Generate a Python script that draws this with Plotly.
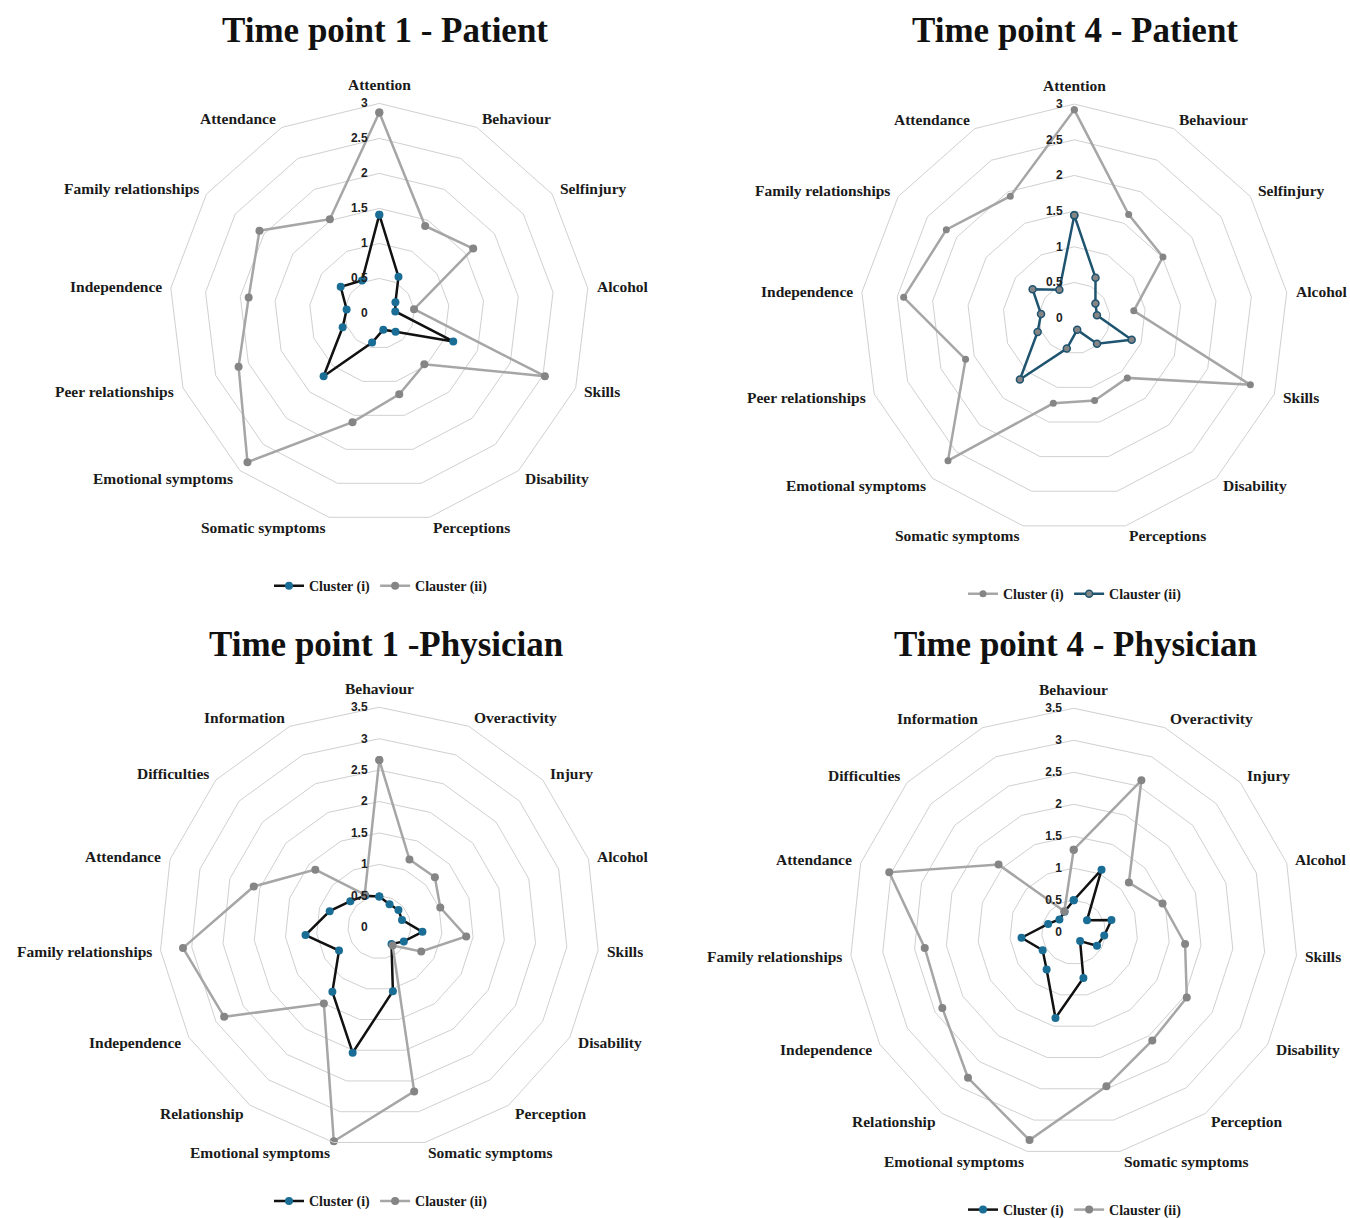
import math
import plotly.graph_objects as go

# ---------------- data ----------------
cats_patient = ["Attention", "Behaviour", "Selfinjury", "Alcohol", "Skills", "Disability",
                "Perceptions", "Somatic symptoms", "Emotional symptoms", "Peer relationships",
                "Independence", "Family relationships", "Attendance"]
cats_physician = ["Behaviour", "Overactivity", "Injury", "Alcohol", "Skills", "Disability",
                  "Perception", "Somatic symptoms", "Emotional symptoms", "Relationship",
                  "Independence", "Family relationships", "Attendance", "Difficulties", "Information"]

tp1_patient_c1 = [1.41, 0.59, 0.28, 0.23, 1.13, 0.35, 0.24, 0.43, 1.20, 0.56, 0.47, 0.67, 0.53]
tp1_patient_c2 = [2.87, 1.41, 1.63, 0.50, 2.53, 0.97, 1.19, 1.60, 2.84, 2.15, 1.88, 2.08, 1.52]

tp4_patient_c1 = [2.92, 1.64, 1.51, 0.84, 2.64, 1.12, 1.19, 1.23, 2.67, 1.63, 2.41, 2.18, 1.93]
tp4_patient_c2 = [1.44, 0.64, 0.36, 0.32, 0.86, 0.48, 0.17, 0.44, 1.15, 0.55, 0.47, 0.71, 0.45]

tp1_phys_c1 = [0.49, 0.40, 0.41, 0.38, 0.69, 0.45, 0.33, 1.04, 2.04, 1.27, 0.74, 1.18, 0.83, 0.62, 0.55]
tp1_phys_c2 = [2.66, 1.18, 1.19, 1.02, 1.39, 0.77, 0.36, 2.67, 3.48, 1.50, 2.85, 3.14, 2.10, 1.37, 0.57]

tp4_phys_c1 = [0.50, 1.07, 0.28, 0.62, 0.48, 0.42, 0.17, 0.73, 1.37, 0.72, 0.56, 0.82, 0.42, 0.30, 0.35]
tp4_phys_c2 = [1.29, 2.60, 1.16, 1.46, 1.75, 2.04, 2.09, 2.46, 3.32, 2.81, 2.37, 2.34, 3.03, 1.58, 0.36]

titles = ["Time point 1 - Patient", "Time point 4 - Patient",
          "Time point 1 -Physician", "Time point 4 - Physician"]
name_i = "Cluster (i)"
name_ii = "Clauster (ii)"
radial_max = [3, 3, 3.5, 3.5]

# ---------------- styling ----------------
W, H = 1350, 1226
KY = 0.994  # observed vertical compression of the rendered page
BLUE_M = "#1a6e96"
TEAL = "#1e5470"
BLACK = "#111111"
GRAY_L = "#a6a6a6"
GRAY_M = "#858585"
GRID = "#d0d0d0"
SERIF = "Liberation Serif"

# panel geometry in page pixels: center x, center y, outer radius
geo = [(379.3, 313.3, 210), (1074.3, 318, 214), (379.3, 927, 220), (1073.7, 932, 224)]
title_pos = [(385, 30), (1075, 30), (386, 644), (1075, 644)]
legend_pos = [(381, 586), (1075, 594), (381, 1201), (1075, 1210)]


def px_x(x):
    return x / W


def px_y(y):
    return 1 - (y / KY) / H


def closed(vals, cats):
    return list(vals) + [vals[0]], list(cats) + [cats[0]]


fig = go.Figure()

panels = [
    (cats_patient, tp1_patient_c1, tp1_patient_c2, "black"),
    (cats_patient, tp4_patient_c1, tp4_patient_c2, "teal"),
    (cats_physician, tp1_phys_c1, tp1_phys_c2, "black"),
    (cats_physician, tp4_phys_c1, tp4_phys_c2, "black"),
]

for i, (cats, c1, c2, style) in enumerate(panels):
    pid = "polar" if i == 0 else f"polar{i+1}"
    lid = "legend" if i == 0 else f"legend{i+1}"
    if style == "black":
        r, t = closed(c1, cats)
        fig.add_trace(go.Scatterpolar(
            r=r, theta=t, name=name_i, subplot=pid, legend=lid, mode="lines+markers",
            line=dict(color=BLACK, width=2.5),
            marker=dict(color=BLUE_M, size=8)))
        r, t = closed(c2, cats)
        fig.add_trace(go.Scatterpolar(
            r=r, theta=t, name=name_ii, subplot=pid, legend=lid, mode="lines+markers",
            line=dict(color=GRAY_L, width=2.5),
            marker=dict(color=GRAY_M, size=8)))
    else:
        r, t = closed(c1, cats)
        fig.add_trace(go.Scatterpolar(
            r=r, theta=t, name=name_i, subplot=pid, legend=lid, mode="lines+markers",
            line=dict(color=GRAY_L, width=2.5),
            marker=dict(color=GRAY_M, size=7)))
        r, t = closed(c2, cats)
        fig.add_trace(go.Scatterpolar(
            r=r, theta=t, name=name_ii, subplot=pid, legend=lid, mode="lines+markers",
            line=dict(color=TEAL, width=2.5),
            marker=dict(color=GRAY_M, size=7, line=dict(color=TEAL, width=1.5))))

layout = dict(width=W, height=H, margin=dict(l=0, r=0, t=0, b=0),
              paper_bgcolor="white", plot_bgcolor="white", showlegend=True)

annotations = []
panel_cats = [cats_patient, cats_patient, cats_physician, cats_physician]
for i in range(4):
    cx, cy, R = geo[i]
    pid = "polar" if i == 0 else f"polar{i+1}"
    layout[pid] = dict(
        domain=dict(x=[px_x(cx - R), px_x(cx + R)], y=[px_y(cy + R), px_y(cy - R)]),
        gridshape="linear",
        bgcolor="white",
        radialaxis=dict(range=[0, radial_max[i]], dtick=0.5, angle=90, side="counterclockwise",
                        showline=False, ticks="outside", ticklen=7, tickcolor="rgba(0,0,0,0)",
                        gridcolor=GRID, gridwidth=1, tickangle=90,
                        tickfont=dict(family="Liberation Sans", size=12, color="#222222", weight="bold")),
        angularaxis=dict(direction="clockwise", rotation=90, showgrid=False,
                         showline=True, linecolor=GRID, linewidth=1,
                         showticklabels=False, ticks=""),
    )
    # category labels placed just outside each polygon vertex
    cats = panel_cats[i]
    n = len(cats)
    for k, name in enumerate(cats):
        th = math.radians(90 - k * 360 / n)
        vx = cx + R * math.cos(th)
        vy = cy - R * math.sin(th)
        c, s = math.cos(th), math.sin(th)
        if abs(c) < 0.05:
            xa, lx, ly = "center", vx, vy - 19 * s
        else:
            xa = "left" if c > 0 else "right"
            lx, ly = vx + 7 * c, vy - 10 * s
        annotations.append(dict(text=name, x=px_x(lx), y=px_y(ly), xref="paper", yref="paper",
                                xanchor=xa, yanchor="middle", showarrow=False,
                                font=dict(family=SERIF, size=15.5, color="#1a1a1a", weight="bold")))
    lid = "legend" if i == 0 else f"legend{i+1}"
    lgx, lgy = legend_pos[i]
    layout[lid] = dict(x=px_x(lgx), y=px_y(lgy), xanchor="center", yanchor="middle",
                       orientation="h", bgcolor="rgba(0,0,0,0)", itemwidth=30,
                       font=dict(family=SERIF, size=14, color="#1a1a1a", weight="bold"))

for i, txt in enumerate(titles):
    tx, ty = title_pos[i]
    annotations.append(dict(text=f"<b>{txt}</b>", x=px_x(tx), y=px_y(ty), xref="paper", yref="paper",
                            xanchor="center", yanchor="middle", showarrow=False,
                            font=dict(family=SERIF, size=35, color="#111111")))

layout["annotations"] = annotations
fig.update_layout(**layout)

page_fix = "document.body.style.margin='0px';"
fig.write_html("out.html", config={"displayModeBar": False}, post_script=page_fix)
